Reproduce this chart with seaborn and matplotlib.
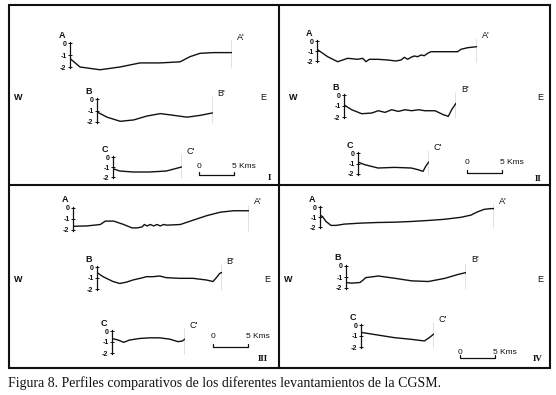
import matplotlib
matplotlib.use("Agg")
import matplotlib.pyplot as plt
import seaborn as sns

sns.set_style("white")
plt.rcParams['font.family'] = ['Liberation Sans', 'DejaVu Sans']

W, H = 556, 395
PPK = 7.0  # pixels per km on the page

# ---------------- data: distance along profile (km) / depth (m) ----------------
I_A_KM = [0, 1.43, 4.29, 7.14, 10.0, 12.86, 15.71, 17.14, 18.57, 20.48, 23.1]
I_A_DEPTH = [-1.29, -2.0, -2.23, -2.0, -1.66, -1.66, -1.57, -1.14, -0.86, -0.8, -0.8]
I_B_KM = [0, 1.43, 3.33, 5.24, 7.14, 9.05, 10.95, 12.86, 14.76, 16.5]
I_B_DEPTH = [-1.12, -1.58, -1.94, -1.82, -1.48, -1.27, -1.42, -1.58, -1.42, -1.21]
I_C_KM = [0, 0.95, 2.86, 5.24, 7.62, 9.8]
I_C_DEPTH = [-1.17, -1.4, -1.5, -1.5, -1.4, -1.0]

II_A_KM = [0, 1.52, 2.95, 4.38, 5.81, 6.52, 7.0, 7.48, 8.67, 10.1, 11.29, 12.0, 12.48,
           12.95, 13.43, 13.9, 14.38, 14.86, 15.33, 15.81, 16.29, 18.19, 20.1, 20.57,
           21.52, 22.8]
II_A_DEPTH = [-0.83, -1.57, -2.07, -1.73, -1.83, -1.73, -2.07, -1.83, -1.83, -1.9, -2.0,
              -1.9, -1.63, -1.83, -1.63, -1.5, -1.57, -1.4, -1.47, -1.23, -1.07, -1.07,
              -1.07, -0.83, -0.67, -0.57]
II_B_KM = [0, 1.1, 2.52, 3.95, 4.9, 5.86, 6.81, 7.76, 8.71, 9.67, 10.62, 11.57, 13.0,
           14.19, 14.9, 15.38, 16.0]
II_B_DEPTH = [-0.9, -1.34, -1.7, -1.64, -1.43, -1.58, -1.34, -1.49, -1.34, -1.43, -1.34,
              -1.43, -1.43, -1.79, -1.94, -1.34, -0.75]
II_C_KM = [0, 0.95, 2.86, 5.24, 7.62, 8.57, 9.29, 9.67, 10.1]
II_C_DEPTH = [-0.86, -1.11, -1.43, -1.37, -1.43, -1.59, -1.75, -1.27, -0.86]

III_A_KM = [0, 2.0, 3.9, 4.62, 5.81, 7.24, 8.43, 9.14, 9.86, 10.19, 10.57, 11.05, 11.52,
            12.0, 12.48, 12.95, 13.43, 15.33, 17.24, 19.14, 21.05, 22.95, 25.1]
III_A_DEPTH = [-1.66, -1.63, -1.5, -1.19, -1.19, -1.5, -1.81, -1.81, -1.72, -1.5, -1.63,
               -1.5, -1.63, -1.5, -1.63, -1.5, -1.56, -1.5, -1.09, -0.69, -0.38, -0.25,
               -0.25]
III_B_KM = [0, 0.86, 2.29, 3.24, 4.19, 5.14, 6.57, 7.05, 8.0, 8.95, 9.9, 11.81, 13.71,
            15.62, 16.57, 17.05, 17.52, 17.8]
III_B_DEPTH = [-0.5, -0.88, -1.32, -1.5, -1.38, -1.18, -0.97, -0.88, -0.88, -0.82, -0.97,
               -1.03, -1.03, -1.18, -1.32, -0.97, -0.59, -0.5]
III_C_KM = [0, 0.86, 1.67, 2.52, 3.95, 5.38, 6.81, 8.24, 9.43, 10.05, 10.4]
III_C_DEPTH = [-0.68, -0.82, -1.03, -0.82, -0.68, -0.62, -0.62, -0.74, -0.97, -0.91, -0.74]

IV_A_KM = [0, 0.38, 0.86, 1.57, 2.29, 3.48, 5.86, 8.24, 10.62, 13.0, 15.38, 17.76,
           20.14, 21.57, 22.52, 23.48, 24.43, 24.9]
IV_A_DEPTH = [-0.81, -0.97, -1.45, -1.84, -1.84, -1.71, -1.61, -1.55, -1.52, -1.45,
              -1.35, -1.23, -1.03, -0.81, -0.48, -0.23, -0.16, -0.16]
IV_B_KM = [0, 0.81, 2.0, 2.48, 2.81, 4.62, 7.0, 9.38, 11.76, 14.14, 16.05, 17.2]
IV_B_DEPTH = [-1.5, -1.56, -1.5, -1.26, -1.06, -0.91, -1.12, -1.35, -1.41, -1.12, -0.76,
              -0.59]
IV_C_KM = [0, 2.38, 4.76, 7.14, 9.05, 9.76, 10.4]
IV_C_DEPTH = [-0.67, -0.91, -1.15, -1.3, -1.45, -1.15, -0.82]

PROFILE_NAMES = ['A', 'B', 'C']
PANEL_NAMES = ['I', 'II', 'III', 'IV']
DEPTH_TICKS = [0, -1, -2]
DEPTH_TICK_LABELS = ['0', '-1', '-2']
SCALE_KM = 5
SCALE_LABELS = ['0', '5 Kms']
CAPTION = "Figura 8. Perfiles comparativos de los diferentes levantamientos de la CGSM."

PANEL_DATA = {
    'I': [(I_A_KM, I_A_DEPTH), (I_B_KM, I_B_DEPTH), (I_C_KM, I_C_DEPTH)],
    'II': [(II_A_KM, II_A_DEPTH), (II_B_KM, II_B_DEPTH), (II_C_KM, II_C_DEPTH)],
    'III': [(III_A_KM, III_A_DEPTH), (III_B_KM, III_B_DEPTH), (III_C_KM, III_C_DEPTH)],
    'IV': [(IV_A_KM, IV_A_DEPTH), (IV_B_KM, IV_B_DEPTH), (IV_C_KM, IV_C_DEPTH)],
}

# ---------------- layout (page pixels) ----------------
# per profile: axis x, zero-level y, pixels per metre
PROFILE_POS = {
    'I': [(70, 43, 12), (97, 99, 11.5), (113, 157, 10)],
    'II': [(317, 41, 10), (344, 95, 11), (358, 153, 10.5)],
    'III': [(73, 208, 11), (97, 267, 11), (112, 331, 11)],
    'IV': [(320, 207, 10), (346, 266, 11), (361, 325, 11)],
}
# W, E, numeral, scale "0" position (x, y-text, y-bar)
PANEL_DECOR = {
    'I': dict(W=(18, 98), E=(263, 98), num=(269, 178), scale=(199, 166, 175)),
    'II': dict(W=(293, 98), E=(540, 98), num=(538, 179), scale=(467, 162, 173)),
    'III': dict(W=(18, 279), E=(267, 279), num=(263, 359), scale=(213, 337, 347)),
    'IV': dict(W=(288, 280), E=(540, 280), num=(538, 359), scale=(460, 352, 358)),
}

fig = plt.figure(figsize=(W / 100, H / 100), dpi=100)
fig.patch.set_facecolor('white')

bg = fig.add_axes([0, 0, 1, 1])
bg.set_xlim(0, W)
bg.set_ylim(H, 0)
bg.axis('off')

INK = '#111111'
# frame
bx0, bx1, by0, by1, ymid, xmid = 9, 550, 5, 368, 185, 279
bg.plot([bx0, bx1, bx1, bx0, bx0], [by0, by0, by1, by1, by0], color=INK, lw=1.5,
        solid_joinstyle='miter')
bg.plot([bx0, bx1], [ymid, ymid], color=INK, lw=1.5)
bg.plot([xmid, xmid], [by0, by1], color=INK, lw=1.5)

for pname in PANEL_NAMES:
    d = PANEL_DECOR[pname]
    bg.text(*d['W'], 'W', ha='center', va='center', fontsize=6.5, fontweight='bold',
            color=INK)
    bg.text(*d['E'], 'E', ha='center', va='center', fontsize=6.5, color=INK)
    bg.text(*d['num'], pname, ha='center', va='center', fontsize=6.5,
            fontweight='bold', family=['Liberation Serif'], color=INK)
    sx, sy_t, sy_b = d['scale']
    sl = SCALE_KM * PPK
    bg.plot([sx, sx, sx + sl, sx + sl], [sy_b - 3, sy_b, sy_b, sy_b - 3], color=INK,
            lw=0.9)
    bg.text(sx, sy_t, SCALE_LABELS[0], ha='center', va='center', fontsize=6, color=INK)
    bg.text(sx + sl - 2, sy_t, SCALE_LABELS[1], ha='left', va='center', fontsize=6,
            color=INK)

    for (km, dep), (x0, y0, ppu), prof in zip(PANEL_DATA[pname], PROFILE_POS[pname],
                                              PROFILE_NAMES):
        L = km[-1]
        top, bot = 0.6, -2.5
        top_px = y0 - top * ppu
        bot_px = y0 - bot * ppu
        ax = fig.add_axes([x0 / W, 1 - bot_px / H, L * PPK / W, (bot_px - top_px) / H])
        ax.set_facecolor('none')
        sns.lineplot(x=km, y=dep, ax=ax, color=INK, lw=1.0, sort=False, estimator=None)
        ax.vlines(L, -2.1, 0.3, color=INK, lw=0.9)
        ax.set_xlim(0, L)
        ax.set_ylim(bot, top)
        for s in ['top', 'right', 'bottom']:
            ax.spines[s].set_visible(False)
        ax.spines['left'].set_bounds(-2.1, 0.1)
        ax.spines['left'].set_linewidth(0.9)
        ax.spines['left'].set_color(INK)
        ax.set_xticks([])
        ax.set_yticks(DEPTH_TICKS)
        ax.set_yticklabels(DEPTH_TICK_LABELS)
        ax.tick_params(axis='y', direction='inout', length=3, width=0.7, pad=1,
                       labelsize=5, colors=INK, left=True)
        for t in ax.get_yticklabels():
            t.set_fontweight('bold')
        ax.set_xlabel('')
        ax.set_ylabel('')
        ax.annotate(prof, xy=(0, 0), xytext=(-8, 8), textcoords='offset pixels',
                    ha='center', va='center', fontsize=6.5, fontweight='bold',
                    color=INK, annotation_clip=False)
        ax.annotate(prof + "'", xy=(L, 0), xytext=(9, 6), textcoords='offset pixels',
                    ha='center', va='center', fontsize=6.5, color=INK,
                    annotation_clip=False)

bg.text(8, 383, CAPTION, ha='left', va='center', fontsize=10,
        family=['Liberation Serif'], color=INK)

fig.savefig('out.png', dpi=100, facecolor='white')
